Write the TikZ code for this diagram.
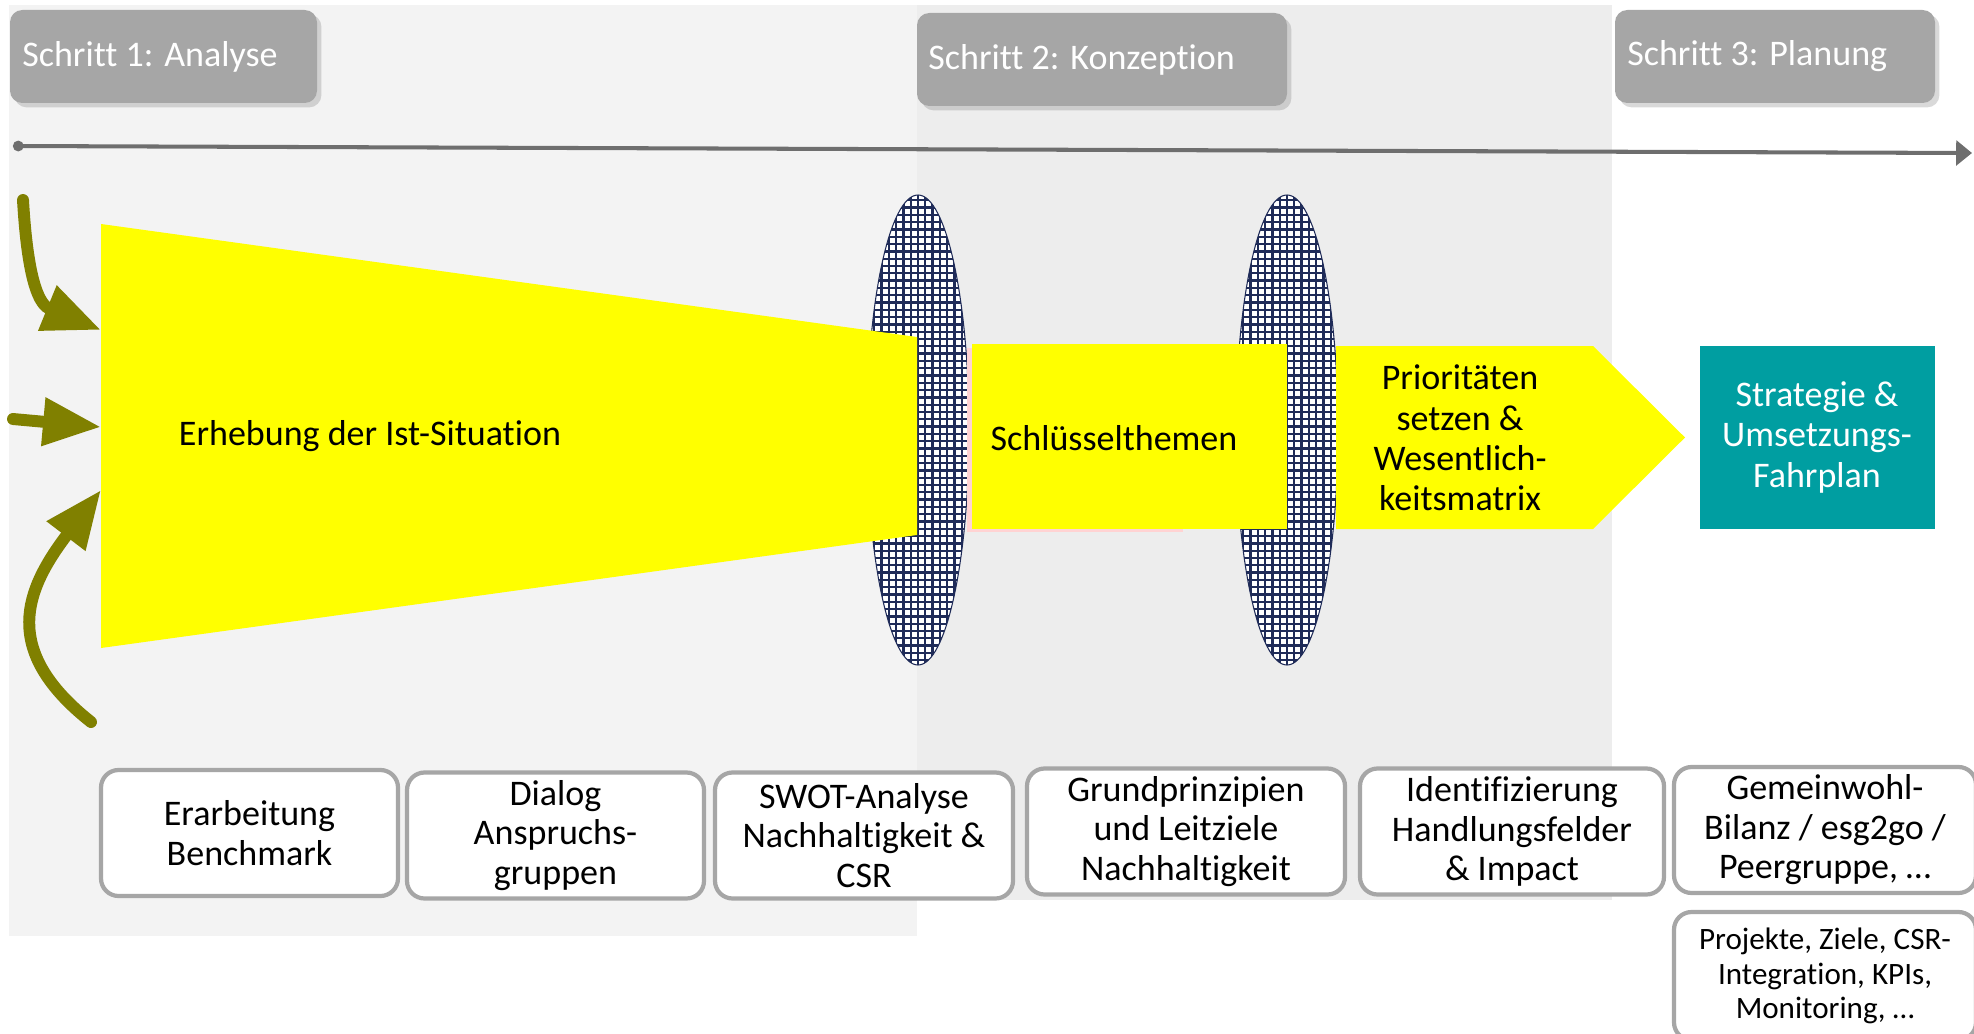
\documentclass[tikz,border=0pt]{standalone}
\usepackage{fontspec}
\setmainfont{Carlito}[RawFeature={-liga;-clig;-calt;-dlig}]
\usepackage{tikz}
\usetikzlibrary{arrows.meta}
\usetikzlibrary{shadows}
\usetikzlibrary{positioning}

\definecolor{panelone}{HTML}{F3F3F3}
\definecolor{paneltwo}{HTML}{EDEDED}
\definecolor{stepgray}{HTML}{A6A6A6}
\definecolor{linegray}{HTML}{6E6E6E}
\definecolor{arrowolive}{HTML}{808000}
\definecolor{gridnavy}{HTML}{1F2B58}
\definecolor{boxteal}{HTML}{009EA1}
\definecolor{framegray}{HTML}{A6A6A6}
\definecolor{shadowpink}{HTML}{FFD3D3}
\definecolor{fillyellow}{RGB}{255,255,0}

\def\px{0.02cm}

\tikzset{
  stepbox/.style={fill=stepgray, rounded corners=7pt, minimum height=93*\px, inner sep=0pt,
    drop shadow={shadow xshift=2.5pt, shadow yshift=-2.5pt, opacity=0.3}},
  steptext/.style={text=white, font=\fontsize{20.5}{24}\selectfont, inner sep=0pt},
  mainlabel/.style={font=\fontsize{20.5}{23}\selectfont, align=center, inner sep=0pt},
  lowbox/.style={draw=framegray, line width=2.4pt, fill=white, rounded corners=10pt, align=center,
    font=\fontsize{20.5}{22.5}\selectfont, inner sep=0pt, minimum height=126*\px},
  feedarrow/.style={arrowolive, line width=6.8pt, line cap=round, -{Triangle[length=33pt, width=26pt]}},
  timeline/.style={linegray, line width=2.3pt, {Circle[length=6pt]}-{Triangle[length=9pt, width=14pt]}},
}

\begin{document}
\begin{tikzpicture}[x=0.02cm, y=-0.02cm]

\useasboundingbox (0,0) rectangle (1974,1034);

\fill[panelone] (9,5) rectangle (917,936);
\fill[paneltwo] (917,5) rectangle (1612,900);

\node[stepbox, minimum width=307*\px] (step1) at (163.5,56.5) {};
\node[steptext, right=7pt of step1.west] (step1-text) {Schritt 1: Analyse};
\node[stepbox, minimum width=370*\px] (step2) at (1102,59.5) {};
\node[steptext, right=6.5pt of step2.west] (step2-text) {Schritt 2: Konzeption};
\node[stepbox, minimum width=320*\px] (step3) at (1775,56.5) {};
\node[steptext, right=7pt of step3.west] (step3-text) {Schritt 3: Planung};

\coordinate (time-start) at (13,146);
\coordinate (time-end) at (1972,153);
\draw[timeline] (time-start) -- (time-end);

\foreach \cx in {918,1287} {
  \begin{scope}
    \clip (\cx,430) ellipse [x radius=51, y radius=235];
    \fill[white] (\cx-55,190) rectangle (\cx+55,670);
    \foreach \gx in {-51.1,-43.8,...,52}
      \draw[gridnavy, line width=1.3pt] (\cx+\gx,190) -- (\cx+\gx,670);
    \foreach \gy in {193,200.3,...,670}
      \draw[gridnavy, line width=1.3pt] (\cx-55,\gy) -- (\cx+55,\gy);
  \end{scope}
  \draw[gridnavy, line width=0.6pt] (\cx,430) ellipse [x radius=51, y radius=235];
}

\coordinate (F1) at (101,224);
\coordinate (F2) at (917,337);
\coordinate (F3) at (917,535);
\coordinate (F4) at (101,648);
\fill[fillyellow] (F1) -- (F2) -- (F3) -- (F4) -- cycle;
\node[mainlabel] (survey) at (370,436) {Erhebung der Ist-Situation};

\fill[shadowpink] (967,348) rectangle (1183,532);
\fill[fillyellow] (972,344) rectangle (1287,529);
\node[mainlabel] (topics) at (1114,438) {Schlüsselthemen};

\fill[fillyellow] (1336,346) -- (1593,346) -- (1685,437.5) -- (1593,529) -- (1336,529) -- cycle;
\node[mainlabel, font=\fontsize{20.5}{23}\selectfont] (priorities) at (1460,438)
  {Prioritäten\\setzen \&\\Wesentlich-\\keitsmatrix};

\node[mainlabel, fill=boxteal, text=white, minimum width=235*\px, minimum height=183*\px]
  (roadmap) at (1817,437.5) {Strategie \&\\Umsetzungs-\\Fahrplan};

\coordinate (feed-top) at (23,200);
\coordinate (in-top) at (101,330);
\coordinate (feed-mid) at (13,419);
\coordinate (in-mid) at (101,427);
\coordinate (feed-low) at (91,722);
\coordinate (in-low) at (101,490);
\draw[feedarrow] (feed-top) .. controls (28,285) and (40,305) .. (in-top);
\draw[feedarrow] (feed-mid) -- (in-mid);
\draw[feedarrow] (feed-low) .. controls (0,650) and (25,590) .. (in-low);

\node[lowbox, minimum width=297*\px] (bench) at (249.5,833) {Erarbeitung\\Benchmark};
\node[lowbox, minimum width=297*\px] (dialog) at (555.5,835.5) {Dialog\\Anspruchs-\\gruppen};
\node[lowbox, minimum width=298*\px] (swot) at (864,835.5) {SWOT-Analyse\\Nachhaltigkeit \&\\CSR};
\node[lowbox, minimum width=318*\px] (principles) at (1186,831.5) {Grundprinzipien\\und Leitziele\\Nachhaltigkeit};
\node[lowbox, minimum width=304*\px] (fields) at (1512,831.5) {Identifizierung\\Handlungsfelder\\\& Impact};
\node[lowbox, minimum width=302*\px] (balance) at (1825,830) {Gemeinwohl-\\Bilanz / esg2go /\\Peergruppe, …};
\node[lowbox, minimum width=302*\px, minimum height=128*\px, font=\fontsize{17.7}{19.6}\selectfont]
  (projects) at (1825,976) {Projekte, Ziele, CSR-\\Integration, KPIs,\\Monitoring, …};

\end{tikzpicture}
\end{document}
